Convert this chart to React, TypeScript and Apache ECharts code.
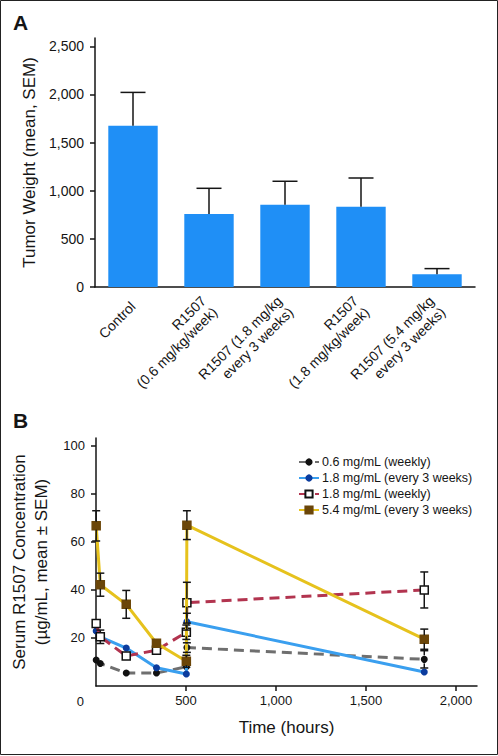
import React, { useEffect, useRef } from 'react';
import * as echarts from 'echarts';

// ---- Panel A data ----
const barCategories = [
  'Control',
  'R1507\n(0.6 mg/kg/week)',
  'R1507 (1.8 mg/kg\nevery 3 weeks)',
  'R1507\n(1.8 mg/kg/week)',
  'R1507 (5.4 mg/kg\nevery 3 weeks)',
];
const tumorWeightMean = [1675, 757, 854, 833, 132];
const tumorWeightSem = [346, 268, 244, 299, 59];
const weightTicks = [0, 500, 1000, 1500, 2000, 2500];

// ---- Panel B data ----
const timeHours = [1, 24, 168, 336, 502, 505, 1824];
const seriesNames = [
  '0.6 mg/mL (weekly)',
  '1.8 mg/mL (every 3 weeks)',
  '1.8 mg/mL (weekly)',
  '5.4 mg/mL (every 3 weeks)',
];
const conc06Weekly = [10.8, 9.4, 5.4, 5.4, 8, 16, 11.1];
const conc06WeeklySem = [0.6, 0.6, 0.5, 0.5, 1, 2, 3.6];
const conc18Q3w = [22.9, 20.5, 15.8, 7.6, 5, 26.8, 5.8];
const conc18Q3wSem = [1, 1.5, 0.8, 0.8, 0.6, 3.5, 0.6];
const conc18Weekly = [26, 20.5, 12.5, 14.9, 22.4, 34.7, 40];
const conc18WeeklySem = [1.5, 2.8, 1, 1, 3, 8.5, 7.5];
const conc54Q3w = [66.7, 42.2, 34, 17.8, 10.3, 67, 19.5];
const conc54Q3wSem = [6.3, 4.8, 5.8, 1.5, 2.5, 6, 4.2];
const concTicks = [20, 40, 60, 80, 100];
const timeTicks = [500, 1000, 1500, 2000];

const FONT = '"Liberation Sans", Arial, Helvetica, sans-serif';
const INK = '#151515';

function makeErrRenderer(capHalf: number, gap: number, bothSides: boolean) {
  return (params: any, api: any) => {
    const x = api.value(0);
    const y = api.value(1);
    const e = api.value(2);
    const c = api.coord([x, y]);
    const top = api.coord([x, y + e]);
    const bot = api.coord([x, Math.max(y - e, 0)]);
    const style = { stroke: INK, lineWidth: 1.5, fill: 'none' };
    const children: any[] = [];
    if (c[1] - top[1] > gap) {
      children.push({ type: 'line', shape: { x1: c[0], y1: c[1] - gap, x2: c[0], y2: top[1] }, style });
      children.push({ type: 'line', shape: { x1: c[0] - capHalf, y1: top[1], x2: c[0] + capHalf, y2: top[1] }, style });
    }
    if (bothSides && bot[1] - c[1] > gap) {
      children.push({ type: 'line', shape: { x1: c[0], y1: c[1] + gap, x2: c[0], y2: bot[1] }, style });
      children.push({ type: 'line', shape: { x1: c[0] - capHalf, y1: bot[1], x2: c[0] + capHalf, y2: bot[1] }, style });
    }
    return { type: 'group', children };
  };
}

const fmt = (v: number) => v.toLocaleString('en-US');

export default function App() {
  const ref = useRef<HTMLDivElement>(null);
  useEffect(() => {
    if (!ref.current) return;
    const chart = echarts.init(ref.current, undefined, { renderer: 'svg' });

    const lineSeriesDefs = [
      { name: seriesNames[0], vals: conc06Weekly, sem: conc06WeeklySem, line: '#6f6f6f', dashed: true, symbol: 'circle', size: 7, fill: '#111111', border: '#111111' },
      { name: seriesNames[1], vals: conc18Q3w, sem: conc18Q3wSem, line: '#3a9fef', dashed: false, symbol: 'circle', size: 7, fill: '#0b3c9e', border: '#0b3c9e' },
      { name: seriesNames[2], vals: conc18Weekly, sem: conc18WeeklySem, line: '#b2344f', dashed: true, symbol: 'rect', size: 8, fill: '#ffffff', border: '#111111' },
      { name: seriesNames[3], vals: conc54Q3w, sem: conc54Q3wSem, line: '#e6c21d', dashed: false, symbol: 'rect', size: 8, fill: '#6b4609', border: '#6b4609' },
    ];

    const errDataB: number[][] = [];
    lineSeriesDefs.forEach((d) => {
      timeHours.forEach((t, i) => errDataB.push([t, d.vals[i], d.sem[i]]));
    });

    const option: any = {
      animation: false,
      textStyle: { fontFamily: FONT, color: INK },
      graphic: [
        { type: 'rect', shape: { x: 0.5, y: 0.5, width: 497, height: 754 }, style: { fill: 'none', stroke: '#222', lineWidth: 1 }, silent: true },
        { type: 'text', x: 13, y: 12, style: { text: 'A', font: `bold 21px ${FONT}`, fill: INK, textVerticalAlign: 'top' } },
        { type: 'text', x: 13, y: 410, style: { text: 'B', font: `bold 21px ${FONT}`, fill: INK, textVerticalAlign: 'top' } },
        { type: 'text', x: 84, y: 701, style: { text: '0', font: `13px ${FONT}`, fill: INK, textAlign: 'right', textVerticalAlign: 'middle' } },
      ],
      legend: {
        orient: 'vertical',
        left: 293,
        top: 450,
        itemWidth: 20,
        itemHeight: 9,
        itemGap: 2,
        data: seriesNames,
        textStyle: { fontSize: 12.5, color: INK, lineHeight: 14, padding: [0, 0, 0, -2] },
      },
      grid: [
        { left: 95, top: 38, width: 380, height: 249 },
        { left: 96, top: 438, width: 381, height: 248 },
      ],
      xAxis: [
        {
          gridIndex: 0,
          type: 'category',
          data: barCategories,
          axisLine: { lineStyle: { color: INK, width: 1.5 } },
          axisTick: { alignWithLabel: true, length: 5, lineStyle: { color: INK, width: 1.5 } },
          axisLabel: { rotate: 45, fontSize: 14, color: INK, margin: 17, lineHeight: 16, interval: 0 },
        },
        {
          gridIndex: 1,
          type: 'value',
          min: 0,
          max: 2117,
          name: 'Time (hours)',
          nameLocation: 'middle',
          nameGap: 33,
          nameTextStyle: { fontSize: 17, color: INK },
          splitLine: { show: false },
          axisLine: { lineStyle: { color: INK, width: 1.5 } },
          axisTick: { length: 5, customValues: timeTicks, lineStyle: { color: INK, width: 1.5 } },
          axisLabel: { customValues: timeTicks, fontSize: 13, color: INK, margin: 8, formatter: fmt },
        },
      ],
      yAxis: [
        {
          gridIndex: 0,
          type: 'value',
          min: 0,
          max: 2586,
          name: 'Tumor Weight (mean, SEM)',
          nameLocation: 'middle',
          nameGap: 55,
          nameTextStyle: { fontSize: 17, color: INK },
          splitLine: { show: false },
          axisLine: { show: true, lineStyle: { color: INK, width: 1.5 } },
          axisTick: { show: true, length: 5, customValues: weightTicks, lineStyle: { color: INK, width: 1.5 } },
          axisLabel: { customValues: weightTicks, fontSize: 14, color: INK, margin: 11, formatter: fmt },
        },
        {
          gridIndex: 1,
          type: 'value',
          min: 0,
          max: 103.3,
          name: 'Serum R1507 Concentration\n(µg/mL, mean ± SEM)',
          nameLocation: 'middle',
          nameGap: 38,
          nameTextStyle: { fontSize: 17, color: INK, lineHeight: 22 },
          splitLine: { show: false },
          axisLine: { show: true, lineStyle: { color: INK, width: 1.5 } },
          axisTick: { show: true, length: 5, customValues: concTicks, lineStyle: { color: INK, width: 1.5 } },
          axisLabel: { customValues: concTicks, fontSize: 13, color: INK, margin: 11 },
        },
      ],
      series: [
        {
          type: 'bar',
          xAxisIndex: 0,
          yAxisIndex: 0,
          data: tumorWeightMean,
          barWidth: '65%',
          itemStyle: { color: '#1f8ff6' },
          z: 2,
        },
        {
          type: 'custom',
          xAxisIndex: 0,
          yAxisIndex: 0,
          data: tumorWeightMean.map((v, i) => [i, v, tumorWeightSem[i]]),
          encode: { x: 0, y: 1 },
          renderItem: makeErrRenderer(12.5, 0, false),
          z: 3,
          silent: true,
        },
        ...lineSeriesDefs.map((d, k) => ({
          type: 'line',
          name: d.name,
          xAxisIndex: 1,
          yAxisIndex: 1,
          data: timeHours.map((t, i) => [t, d.vals[i]]),
          symbol: d.symbol,
          symbolSize: d.size,
          showAllSymbol: true,
          lineStyle: { color: d.line, width: 3, type: d.dashed ? [10, 6] : 'solid' },
          itemStyle: { color: d.fill, borderColor: d.border, borderWidth: d.symbol === 'rect' ? 1.5 : 0 },
          z: 2 + k * 0.1,
        })),
        {
          type: 'custom',
          xAxisIndex: 1,
          yAxisIndex: 1,
          data: errDataB,
          encode: { x: 0, y: 1 },
          renderItem: makeErrRenderer(4, 4, true),
          z: 4,
          silent: true,
        },
      ],
    };
    chart.setOption(option);
    return () => chart.dispose();
  }, []);
  return (
    <div style={{ position: 'fixed', left: 0, top: 0, width: 498, height: 756, background: '#fff' }}>
      <div ref={ref} style={{ width: 498, height: 756 }} />
    </div>
  );
}
